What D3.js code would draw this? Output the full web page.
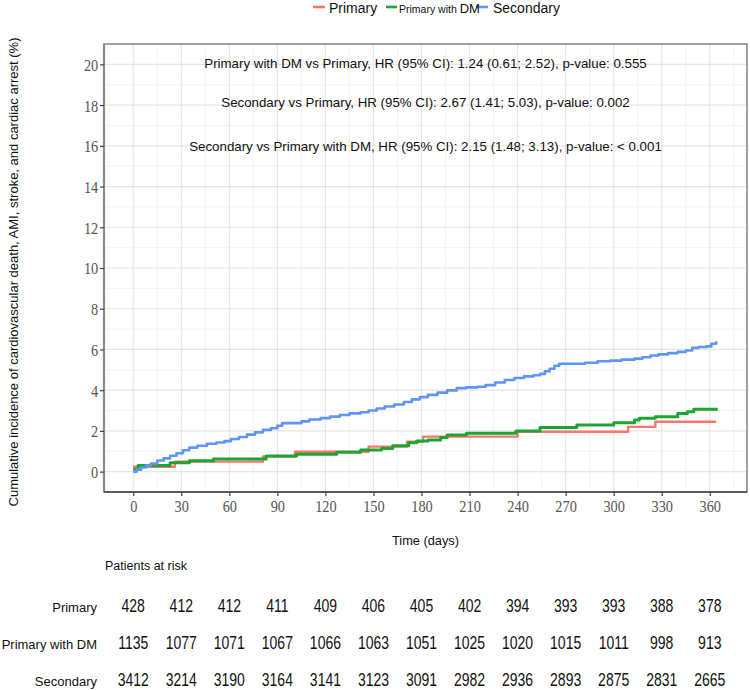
<!DOCTYPE html>
<html><head><meta charset="utf-8">
<script src="https://cdn.jsdelivr.net/npm/d3@7"></script>
<style>body{margin:0;background:#fff}</style>
</head><body>
<svg id="c" width="750" height="690"></svg>
<script>
const seriesNames = ["Primary", "Primary with DM", "Secondary"];
const seriesColors = ["#F8766D", "#1DA534", "#5F95F7"];

const primaryT = [0, 26, 81, 101, 147, 171, 181, 240, 309, 326, 364];
const primaryV = [0.24, 0.49, 0.74, 0.98, 1.23, 1.47, 1.72, 1.96, 2.2, 2.45, 2.45];

const primaryDmT = [0, 3, 23, 35, 50, 83, 102, 127, 142, 155, 162, 172, 177, 184, 192, 196, 208, 239, 254, 277, 300, 313, 316, 326, 340, 346, 350, 365];
const primaryDmV = [0.11, 0.3, 0.44, 0.53, 0.62, 0.77, 0.85, 0.95, 1.06, 1.14, 1.27, 1.42, 1.5, 1.55, 1.68, 1.8, 1.88, 1.99, 2.17, 2.29, 2.4, 2.53, 2.62, 2.7, 2.86, 2.94, 3.06, 3.06];

const secondaryT = [0, 2, 5, 8, 11, 15, 19, 23, 27, 31, 35, 40, 46, 52, 57, 61, 66, 71, 76, 81, 86, 90, 93, 100, 105, 110, 117, 123, 129, 135, 142, 147, 152, 157, 163, 169, 174, 179, 184, 190, 196, 202, 208, 215, 220, 226, 232, 238, 244, 250, 254, 257, 260, 263, 266, 275, 282, 290, 298, 305, 313, 318, 323, 328, 334, 340, 345, 349, 353, 358, 361, 364];
const secondaryV = [0, 0.1, 0.2, 0.3, 0.4, 0.55, 0.65, 0.78, 0.9, 1.05, 1.18, 1.27, 1.37, 1.43, 1.5, 1.6, 1.7, 1.82, 1.93, 2.05, 2.13, 2.25, 2.38, 2.38, 2.47, 2.56, 2.63, 2.7, 2.78, 2.86, 2.92, 3.0, 3.1, 3.2, 3.3, 3.42, 3.55, 3.66, 3.77, 3.88, 3.99, 4.1, 4.14, 4.17, 4.25, 4.38, 4.5, 4.6, 4.68, 4.73, 4.8, 4.93, 5.05, 5.2, 5.3, 5.3, 5.35, 5.42, 5.45, 5.5, 5.55, 5.62, 5.7, 5.76, 5.82, 5.88, 5.95, 6.08, 6.12, 6.15, 6.28, 6.4];

const xTicks = [0, 30, 60, 90, 120, 150, 180, 210, 240, 270, 300, 330, 360];
const yTicks = [0, 2, 4, 6, 8, 10, 12, 14, 16, 18, 20];

const riskLabels = ["Primary", "Primary with DM", "Secondary"];
const riskPrimary = [428, 412, 412, 411, 409, 406, 405, 402, 394, 393, 393, 388, 378];
const riskPrimaryDm = [1135, 1077, 1071, 1067, 1066, 1063, 1051, 1025, 1020, 1015, 1011, 998, 913];
const riskSecondary = [3412, 3214, 3190, 3164, 3141, 3123, 3091, 2982, 2936, 2893, 2875, 2831, 2665];

const annotTexts = [
  "Primary with DM vs Primary, HR (95% CI): 1.24 (0.61; 2.52), p-value: 0.555",
  "Secondary vs Primary, HR (95% CI): 2.67 (1.41; 5.03), p-value: 0.002",
  "Secondary vs Primary with DM, HR (95% CI): 2.15 (1.48; 3.13), p-value: < 0.001"
];
const annotY = [20, 18.1, 15.9];

const svg = d3.select("#c");
const L = 104, R = 747, T = 44, B = 492;
const x = d3.scaleLinear().domain([-18.25, 383.25]).range([L, R]);
const y = d3.scaleLinear().domain([-1, 21]).range([B, T]);

// grid
const g = svg.append("g");
const minorX = d3.range(-15, 383, 15).filter(v => v % 30 !== 0);
const minorY = d3.range(1, 21, 2);
g.selectAll(".mx").data(minorX).join("line")
  .attr("x1", d => x(d)).attr("x2", d => x(d)).attr("y1", T).attr("y2", B)
  .attr("stroke", "#f0f0f0").attr("stroke-width", 0.8);
g.selectAll(".my").data(minorY).join("line")
  .attr("x1", L).attr("x2", R).attr("y1", d => y(d)).attr("y2", d => y(d))
  .attr("stroke", "#f0f0f0").attr("stroke-width", 0.8);
g.selectAll(".gx").data(xTicks).join("line")
  .attr("x1", d => x(d)).attr("x2", d => x(d)).attr("y1", T).attr("y2", B)
  .attr("stroke", "#e6e6e6").attr("stroke-width", 1.2);
g.selectAll(".gy").data(yTicks).join("line")
  .attr("x1", L).attr("x2", R).attr("y1", d => y(d)).attr("y2", d => y(d))
  .attr("stroke", "#e6e6e6").attr("stroke-width", 1.2);

// annotations
svg.selectAll(".ann").data(annotTexts).join("text")
  .attr("x", x(182.5)).attr("y", (d, i) => y(annotY[i]))
  .attr("text-anchor", "middle").attr("dominant-baseline", "middle")
  .attr("font-family", "Liberation Sans, Arial, sans-serif").attr("font-size", 13.3)
  .attr("fill", "#111").text(d => d);

// curves
const series = [
  {t: primaryT, v: primaryV, c: seriesColors[0], w: 2.4},
  {t: primaryDmT, v: primaryDmV, c: seriesColors[1], w: 3},
  {t: secondaryT, v: secondaryV, c: seriesColors[2], w: 2.6}
];
const line = d3.line().x(d => x(d[0])).y(d => y(d[1])).curve(d3.curveStepAfter);
series.forEach(s => {
  svg.append("path").datum(s.t.map((t, i) => [t, s.v[i]]))
    .attr("d", line).attr("fill", "none").attr("stroke", s.c)
    .attr("stroke-width", s.w).attr("stroke-linejoin", "round");
});

// border
svg.append("rect").attr("x", L).attr("y", T).attr("width", R - L).attr("height", B - T)
  .attr("fill", "none").attr("stroke", "#8a8a8a").attr("stroke-width", 1.6);
svg.append("line").attr("x1", L).attr("x2", L).attr("y1", T).attr("y2", B)
  .attr("stroke", "#8a8a8a").attr("stroke-width", 2.2);
svg.append("line").attr("x1", L).attr("x2", R).attr("y1", B).attr("y2", B)
  .attr("stroke", "#444").attr("stroke-width", 1.6);

// axes
const xAxis = svg.append("g").attr("transform", `translate(0,${B})`)
  .call(d3.axisBottom(x).tickValues(xTicks).tickSize(4).tickPadding(4));
const yAxis = svg.append("g").attr("transform", `translate(${L},0)`)
  .call(d3.axisLeft(y).tickValues(yTicks).tickSize(4).tickPadding(3));
[xAxis, yAxis].forEach(a => {
  a.select(".domain").remove();
  a.selectAll(".tick line").attr("stroke", "#444").attr("stroke-width", 1.2);
  a.selectAll(".tick text").attr("font-family", "Liberation Serif, Times New Roman, serif")
    .attr("font-size", 17.5).attr("fill", "#555");
});
xAxis.selectAll(".tick text").attr("transform", "scale(0.82,1)");
yAxis.selectAll(".tick text").attr("transform", "scale(0.82,1)").attr("dy", "0.34em");

// axis titles
svg.append("text").attr("x", (L + R) / 2).attr("y", 545).attr("text-anchor", "middle")
  .attr("font-family", "Liberation Sans, Arial, sans-serif").attr("font-size", 12.8)
  .attr("fill", "#111").text("Time (days)");
svg.append("text").attr("transform", `translate(18,${(T + B) / 2 + 4}) rotate(-90)`)
  .attr("text-anchor", "middle")
  .attr("font-family", "Liberation Sans, Arial, sans-serif").attr("font-size", 13)
  .attr("fill", "#111").text("Cumulative incidence of cardiovascular death, AMI, stroke, and cardiac arrest (%)");

// legend
const lg = svg.append("g").attr("font-family", "Liberation Sans, Arial, sans-serif").attr("fill", "#111");
const legendItems = [
  {x0: 313, x1: 325, c: seriesColors[0]},
  {x0: 386, x1: 397, c: seriesColors[1]},
  {x0: 476, x1: 488, c: seriesColors[2]}
];
legendItems.forEach(it => {
  lg.append("line").attr("x1", it.x0).attr("x2", it.x1).attr("y1", 7).attr("y2", 7)
    .attr("stroke", it.c).attr("stroke-width", 2.6);
});
lg.append("text").attr("x", 329).attr("y", 13).attr("font-size", 14).text(seriesNames[0]);
const t2 = lg.append("text").attr("x", 399).attr("y", 13);
t2.append("tspan").attr("font-size", 10.5).text("Primary with ");
t2.append("tspan").attr("font-size", 13).text("DM");
lg.append("text").attr("x", 493).attr("y", 13).attr("font-size", 14).text(seriesNames[2]);

// risk table
svg.append("text").attr("x", 105).attr("y", 570)
  .attr("font-family", "Liberation Sans, Arial, sans-serif").attr("font-size", 12.5)
  .attr("fill", "#111").text("Patients at risk");
const riskRows = [riskPrimary, riskPrimaryDm, riskSecondary];
const rowY = [612, 649, 686];
riskRows.forEach((row, r) => {
  svg.append("text").attr("x", 97).attr("y", rowY[r]).attr("text-anchor", "end")
    .attr("font-family", "Liberation Sans, Arial, sans-serif").attr("font-size", 13)
    .attr("fill", "#111").text(riskLabels[r]);
  svg.append("g").selectAll("text").data(row).join("text")
    .attr("transform", (d, i) => `translate(${x(xTicks[i])},${rowY[r]}) scale(0.8,1)`)
    .attr("text-anchor", "middle")
    .attr("font-family", "Liberation Sans, Arial, sans-serif").attr("font-size", 17.5)
    .attr("fill", "#111").text(d => d);
});
</script>
</body></html>
